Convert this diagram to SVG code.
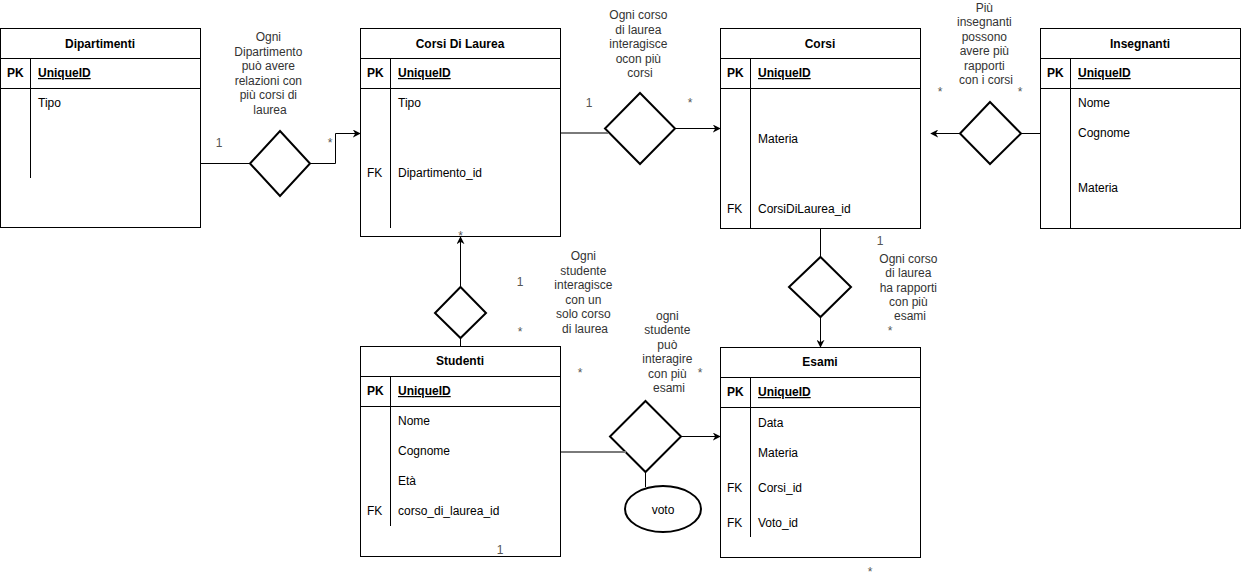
<svg xmlns="http://www.w3.org/2000/svg" width="1241" height="588" viewBox="0 0 1241 588">
  <style>
    text { font-family: "Liberation Sans", Arial, sans-serif; font-size: 12px; fill: #000; }
    .title { font-weight: bold; text-anchor: middle; }
    .key { font-weight: bold; }
    .pkid { font-weight: bold; text-decoration: underline; }
    .note { fill: #333; text-anchor: middle; }
    .card { fill: #555; text-anchor: middle; }
    .box { fill: #fff; stroke: #000; stroke-width: 1; }
    .sep { stroke: #000; stroke-width: 1; fill: none; }
    .rel { fill: #fff; stroke: #000; stroke-width: 2; }
    .line { fill: none; stroke: #000; stroke-width: 1; }
    .soft { fill: none; stroke: #7a7a7a; stroke-width: 2; }
  </style>
  <defs>
    <marker id="arrow" viewBox="0 0 10 10" refX="9" refY="5" markerWidth="8" markerHeight="8" markerUnits="userSpaceOnUse" orient="auto">
      <path d="M0,0 L10,5 L0,10 L3,5 Z" fill="#000"/>
    </marker>
  </defs>

  <rect width="1241" height="588" fill="#fff"/>

  <!-- Dipartimenti -->
  <g id="dipartimenti">
    <rect class="box" x="0.5" y="28.5" width="200" height="199"/>
    <path class="sep" d="M0.5,58.5 H200.5 M0.5,88.5 H200.5 M30.5,58.5 V178"/>
    <text class="title" x="100" y="48">Dipartimenti</text>
    <text class="key" x="7" y="77">PK</text>
    <text class="pkid" x="38" y="77">UniqueID</text>
    <text x="38" y="107">Tipo</text>
  </g>

  <!-- Corsi Di Laurea -->
  <g id="corsi-di-laurea">
    <rect class="box" x="360.5" y="28.5" width="200" height="208"/>
    <path class="sep" d="M360.5,58.5 H560.5 M360.5,88.5 H560.5 M390.5,58.5 V228"/>
    <text class="title" x="460" y="48">Corsi Di Laurea</text>
    <text class="key" x="367" y="77">PK</text>
    <text class="pkid" x="398" y="77">UniqueID</text>
    <text x="398" y="107">Tipo</text>
    <text x="367" y="177">FK</text>
    <text x="398" y="177">Dipartimento_id</text>
  </g>

  <!-- Corsi -->
  <g id="corsi">
    <rect class="box" x="720.5" y="28.5" width="200" height="200"/>
    <path class="sep" d="M720.5,58.5 H920.5 M720.5,88.5 H920.5 M750.5,58.5 V228.5"/>
    <text class="title" x="820" y="48">Corsi</text>
    <text class="key" x="727" y="77">PK</text>
    <text class="pkid" x="758" y="77">UniqueID</text>
    <text x="758" y="143">Materia</text>
    <text x="727" y="213">FK</text>
    <text x="758" y="213">CorsiDiLaurea_id</text>
  </g>

  <!-- Insegnanti -->
  <g id="insegnanti">
    <rect class="box" x="1040.5" y="28.5" width="200" height="200"/>
    <path class="sep" d="M1040.5,58.5 H1240.5 M1040.5,88.5 H1240.5 M1070.5,58.5 V228.5"/>
    <text class="title" x="1140" y="48">Insegnanti</text>
    <text class="key" x="1047" y="77">PK</text>
    <text class="pkid" x="1078" y="77">UniqueID</text>
    <text x="1078" y="107">Nome</text>
    <text x="1078" y="137">Cognome</text>
    <text x="1078" y="192">Materia</text>
  </g>

  <!-- Studenti -->
  <g id="studenti">
    <rect class="box" x="360.5" y="346.5" width="200" height="210"/>
    <path class="sep" d="M360.5,376.5 H560.5 M360.5,406.5 H560.5 M390.5,376.5 V526"/>
    <text class="title" x="460" y="365">Studenti</text>
    <text class="key" x="367" y="395">PK</text>
    <text class="pkid" x="398" y="395">UniqueID</text>
    <text x="398" y="425">Nome</text>
    <text x="398" y="455">Cognome</text>
    <text x="398" y="485">Età</text>
    <text x="367" y="515">FK</text>
    <text x="398" y="515">corso_di_laurea_id</text>
  </g>

  <!-- Esami -->
  <g id="esami">
    <rect class="box" x="720.5" y="347.5" width="200" height="210"/>
    <path class="sep" d="M720.5,377.5 H920.5 M720.5,407.5 H920.5 M750.5,377.5 V537"/>
    <text class="title" x="820" y="366">Esami</text>
    <text class="key" x="727" y="396">PK</text>
    <text class="pkid" x="758" y="396">UniqueID</text>
    <text x="758" y="427">Data</text>
    <text x="758" y="457">Materia</text>
    <text x="727" y="492">FK</text>
    <text x="758" y="492">Corsi_id</text>
    <text x="727" y="527">FK</text>
    <text x="758" y="527">Voto_id</text>
  </g>

  <!-- Relationship diamonds and the voto attribute -->
  <g id="rel-dipartimenti-corsidl">
    <polygon class="rel" points="280,131 310,163.5 280,196 250,163.5"/>
  </g>
  <g id="rel-corsidl-corsi">
    <polygon class="rel" points="640,93 675,128.5 640,164 605,128.5"/>
  </g>
  <g id="rel-insegnanti-corsi">
    <polygon class="rel" points="990,102 1021,133.5 990,164 960,133.5"/>
  </g>
  <g id="rel-corsi-esami">
    <polygon class="rel" points="820.5,257 851,287 820.5,317 789,287"/>
  </g>
  <g id="rel-studenti-corsidl">
    <polygon class="rel" points="460.5,287 486,313 460.5,338 435,313"/>
  </g>
  <g id="rel-studenti-esami">
    <polygon class="rel" points="645.5,401 681,436.5 645.5,472 610,436.5"/>
  </g>
  <g id="attr-voto">
    <ellipse class="rel" cx="663" cy="509" rx="38" ry="23"/>
    <text x="663" y="514" text-anchor="middle">voto</text>
  </g>

  <!-- Cardinalities (drawn under the connectors) -->
  <g id="cardinalities">
    <text class="card" x="219" y="147">1</text>
    <text class="card" x="330" y="147">*</text>
    <text class="card" x="589" y="107">1</text>
    <text class="card" x="690" y="107">*</text>
    <text class="card" x="940" y="96">*</text>
    <text class="card" x="1020" y="96">*</text>
    <text class="card" x="880" y="245">1</text>
    <text class="card" x="890" y="335">*</text>
    <text class="card" x="520" y="286">1</text>
    <text class="card" x="520" y="336">*</text>
    <text class="card" x="460.5" y="240">*</text>
    <text class="card" x="580" y="377">*</text>
    <text class="card" x="700" y="377">*</text>
    <text class="card" x="500" y="554">1</text>
    <text class="card" x="870" y="576">*</text>
  </g>

  <!-- Connectors -->
  <g id="connectors">
    <path class="line" d="M200,163.5 H250"/>
    <path class="line" d="M310,163.5 H335.5 V133.5 H360" marker-end="url(#arrow)"/>
    <path class="soft" d="M561,133 H608"/>
    <path class="line" d="M675,128.5 H720" marker-end="url(#arrow)"/>
    <path class="line" d="M1040,133.5 H1021"/>
    <path class="line" d="M960,133.5 H931" marker-end="url(#arrow)"/>
    <path class="line" d="M820.5,228.5 V257"/>
    <path class="line" d="M820.5,317 V347" marker-end="url(#arrow)"/>
    <path class="line" d="M460.5,346.5 V338"/>
    <path class="line" d="M460.5,287 V237" marker-end="url(#arrow)"/>
    <path class="soft" d="M561,452 H626"/>
    <path class="line" d="M681,436.5 H720" marker-end="url(#arrow)"/>
    <path class="line" d="M645.5,472 V487"/>
  </g>

  <!-- Relationship descriptions -->
  <g id="notes">
    <text class="note" x="270" y="41">
      <tspan x="270">Ogni</tspan>
      <tspan x="270" dy="14.6">Dipartimento</tspan>
      <tspan x="270" dy="14.6">può avere</tspan>
      <tspan x="270" dy="14.6">relazioni con</tspan>
      <tspan x="270" dy="14.6">più corsi di</tspan>
      <tspan x="270" dy="14.6">laurea</tspan>
    </text>
    <text class="note" x="640" y="19">
      <tspan x="640">Ogni corso</tspan>
      <tspan x="640" dy="14.5">di laurea</tspan>
      <tspan x="640" dy="14.5">interagisce</tspan>
      <tspan x="640" dy="14.5">ocon più</tspan>
      <tspan x="640" dy="14.5">corsi</tspan>
    </text>
    <text class="note" x="986" y="11.5">
      <tspan x="986">Più</tspan>
      <tspan x="986" dy="14.5">insegnanti</tspan>
      <tspan x="986" dy="14.5">possono</tspan>
      <tspan x="986" dy="14.5">avere più</tspan>
      <tspan x="986" dy="14.5">rapporti</tspan>
      <tspan x="986" dy="14.5">con i corsi</tspan>
    </text>
    <text class="note" x="910" y="263">
      <tspan x="910">Ogni corso</tspan>
      <tspan x="910" dy="14.3">di laurea</tspan>
      <tspan x="910" dy="14.3">ha rapporti</tspan>
      <tspan x="910" dy="14.3">con più</tspan>
      <tspan x="910" dy="14.3">esami</tspan>
    </text>
    <text class="note" x="585" y="260">
      <tspan x="585">Ogni</tspan>
      <tspan x="585" dy="14.5">studente</tspan>
      <tspan x="585" dy="14.5">interagisce</tspan>
      <tspan x="585" dy="14.5">con un</tspan>
      <tspan x="585" dy="14.5">solo corso</tspan>
      <tspan x="585" dy="14.5">di laurea</tspan>
    </text>
    <text class="note" x="669" y="320">
      <tspan x="669">ogni</tspan>
      <tspan x="669" dy="14.4">studente</tspan>
      <tspan x="669" dy="14.4">può</tspan>
      <tspan x="669" dy="14.4">interagire</tspan>
      <tspan x="669" dy="14.4">con più</tspan>
      <tspan x="669" dy="14.4">esami</tspan>
    </text>
  </g>
</svg>
